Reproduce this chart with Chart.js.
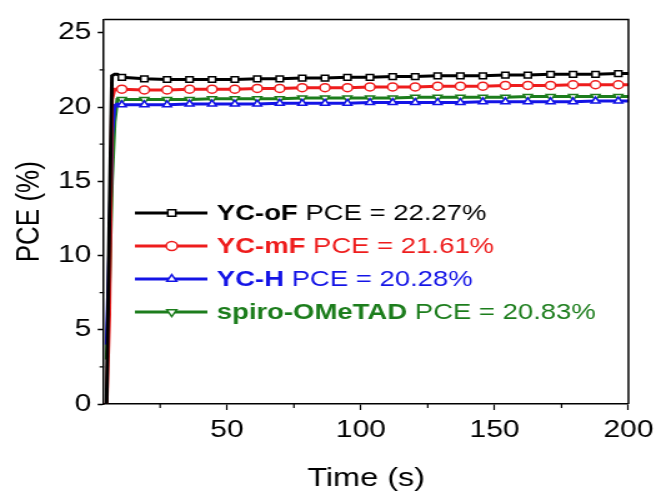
<!DOCTYPE html>
<html>
<head>
<meta charset="utf-8">
<title>PCE vs time</title>
<script src="https://cdn.jsdelivr.net/npm/chart.js@4"></script>
<style>
  body { margin: 0; background: #fff; }
  /* the original figure is stretched sideways, so the canvas is drawn narrow and widened by css */
  #pceChart { display: block; background: #fff; width: 661px; height: 498px; }
</style>
</head>
<body>
<canvas id="pceChart" width="529" height="498" style="width:661px;height:498px"></canvas>
<script>
// ---- data ----
const timeS = [5, 6, 7, 8, 9,
  10.7, 19.1, 27.6, 36.0, 44.4, 52.9, 61.3, 69.7, 78.1, 86.6, 95.0, 103.4,
  111.9, 120.3, 128.7, 137.2, 145.6, 154.0, 162.4, 170.9, 179.3, 187.7, 196.2, 200];

const ycOF = [0, 12, 22.1, 22.2, 22.2,
  22.0, 21.9, 21.85, 21.85, 21.85, 21.85, 21.9, 21.9, 21.95, 21.95, 22.0, 22.0,
  22.05, 22.05, 22.1, 22.1, 22.1, 22.15, 22.15, 22.2, 22.2, 22.2, 22.25, 22.25];
const ycMF = [0, 6, 20.5, 21.2, 21.2,
  21.2, 21.15, 21.15, 21.2, 21.2, 21.2, 21.25, 21.25, 21.3, 21.3, 21.3, 21.35,
  21.35, 21.35, 21.4, 21.4, 21.4, 21.45, 21.45, 21.45, 21.5, 21.5, 21.5, 21.5];
const ycH = [4, 10, 18, 20.1, 20.2,
  20.15, 20.15, 20.15, 20.2, 20.2, 20.2, 20.2, 20.25, 20.25, 20.25, 20.25, 20.3,
  20.3, 20.3, 20.3, 20.3, 20.35, 20.35, 20.35, 20.35, 20.35, 20.4, 20.4, 20.4];
const spiro = [3, 8, 15, 19, 20.5,
  20.5, 20.5, 20.5, 20.5, 20.55, 20.55, 20.55, 20.55, 20.6, 20.6, 20.6, 20.6,
  20.6, 20.65, 20.65, 20.65, 20.65, 20.65, 20.7, 20.7, 20.7, 20.7, 20.7, 20.7];

const seriesNames = ["YC-oF", "YC-mF", "YC-H", "spiro-OMeTAD"];
const pceLabels = ["PCE = 22.27%", "PCE = 21.61%", "PCE = 20.28%", "PCE = 20.83%"];

const xTicks = [50, 100, 150, 200];
const xMinorTicks = [25, 75, 125, 175];
const yTicks = [0, 5, 10, 15, 20, 25];
const yMinorTicks = [2.5, 7.5, 12.5, 17.5, 22.5];

// ---- styling ----
const colors = ["#000000", "#ee1c1c", "#1414e6", "#1c7d1c"];
const markers = ["rect", "circle", "triangle", "triangle"];
const markerRot = [0, 0, 0, 180];
const FONT = "'Liberation Sans', Arial, sans-serif";

function makeDataset(i, values) {
    return {
        label: seriesNames[i],
        data: timeS.map((t, k) => ({ x: t, y: values[k] })),
        borderColor: colors[i],
        backgroundColor: "#ffffff",
        borderWidth: 3,
        tension: 0,
        pointStyle: markers[i],
        rotation: markerRot[i],
        pointBorderColor: colors[i],
        pointBackgroundColor: "#ffffff",
        pointBorderWidth: 1.5,
        pointRadius: ctx => (ctx.dataIndex >= 5 && ctx.dataIndex < timeS.length - 1) ? 4 : 0,
        pointHoverRadius: 0
    };
}

// frame, minor ticks and legend drawn on top
const extrasPlugin = {
    id: "extras",
    afterDraw(chart) {
        const ctx = chart.ctx;
        const area = chart.chartArea;
        const xs = chart.scales.x;
        const ys = chart.scales.y;

        ctx.save();
        ctx.strokeStyle = "#000";
        ctx.lineWidth = 1.5;
        // top + right frame
        ctx.beginPath();
        ctx.moveTo(area.left, area.top);
        ctx.lineTo(area.right, area.top);
        ctx.lineTo(area.right, area.bottom);
        ctx.stroke();

        // minor ticks
        ctx.lineWidth = 1.2;
        ctx.beginPath();
        xMinorTicks.forEach(v => {
            const px = xs.getPixelForValue(v);
            ctx.moveTo(px, area.bottom);
            ctx.lineTo(px, area.bottom + 4);
        });
        yMinorTicks.forEach(v => {
            const py = ys.getPixelForValue(v);
            ctx.moveTo(area.left, py);
            ctx.lineTo(area.left - 3.5, py);
        });
        ctx.stroke();

        // legend
        const rowY = [213, 246, 279, 312];
        chart.data.datasets.forEach((ds, i) => {
            const y = rowY[i];
            ctx.strokeStyle = colors[i];
            ctx.lineWidth = 3;
            ctx.beginPath();
            ctx.moveTo(108, y);
            ctx.lineTo(166, y);
            ctx.stroke();

            ctx.fillStyle = "#ffffff";
            ctx.strokeStyle = colors[i];
            ctx.lineWidth = 1.5;
            Chart.helpers.drawPoint(ctx, {
                pointStyle: markers[i],
                rotation: markerRot[i],
                radius: 4.5,
                borderWidth: 1.5
            }, 137.5, y);

            ctx.fillStyle = colors[i];
            ctx.textBaseline = "middle";
            ctx.textAlign = "left";
            ctx.font = "bold 22px " + FONT;
            ctx.fillText(seriesNames[i], 173.5, y + 1);
            const w = ctx.measureText(seriesNames[i] + " ").width;
            ctx.font = "22px " + FONT;
            ctx.fillText(pceLabels[i], 173.5 + w, y + 1);
        });
        ctx.restore();
    }
};

const chart = new Chart(document.getElementById("pceChart"), {
    type: "line",
    data: {
        datasets: [
            makeDataset(0, ycOF),
            makeDataset(1, ycMF),
            makeDataset(2, ycH),
            makeDataset(3, spiro)
        ]
    },
    options: {
        responsive: false,
        animation: false,
        layout: { padding: { left: 0, right: 21.6, top: 16, bottom: 0 } },
        plugins: {
            legend: { display: false },
            tooltip: { enabled: false }
        },
        scales: {
            x: {
                type: "linear",
                min: 4,
                max: 200,
                afterBuildTicks: s => { s.ticks = xTicks.map(v => ({ value: v })); },
                afterFit: s => { s.height = 94; },
                border: { display: true, color: "#000", width: 1.5 },
                grid: { drawOnChartArea: false, drawTicks: true, tickLength: 6, tickWidth: 1.2, tickColor: "#000" },
                ticks: { color: "#000", padding: 6, maxRotation: 0, font: { family: FONT, size: 24 } },
                title: { display: true, text: "Time (s)", color: "#000", padding: { top: 0, bottom: 4 }, font: { family: FONT, size: 26 } }
            },
            y: {
                min: 0,
                max: 25.9,
                afterBuildTicks: s => { s.ticks = yTicks.map(v => ({ value: v })); },
                afterFit: s => { s.width = 83.2; },
                border: { display: true, color: "#000", width: 1.5 },
                grid: { drawOnChartArea: false, drawTicks: true, tickLength: 5, tickWidth: 1.5, tickColor: "#000" },
                ticks: { color: "#000", padding: 5, font: { family: FONT, size: 24 } },
                title: { display: true, text: "PCE (%)", color: "#000", padding: { top: 8.4, bottom: 0 }, font: { family: FONT, size: 26 } }
            }
        }
    },
    plugins: [extrasPlugin]
});
</script>
</body>
</html>
